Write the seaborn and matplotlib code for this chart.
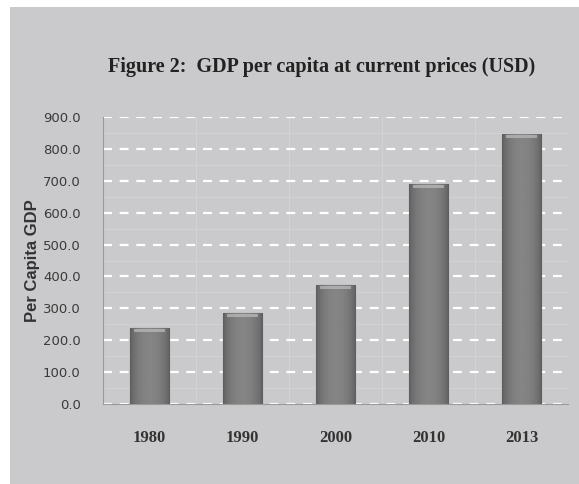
import matplotlib
matplotlib.use("Agg")
import matplotlib.pyplot as plt
import matplotlib.patches as mpatches
import numpy as np
import pandas as pd
import seaborn as sns

# -----------------------------
# Data
# -----------------------------
years = ["1980", "1990", "2000", "2010", "2013"]
gdp_per_capita = [238.0, 285.0, 372.0, 690.0, 847.0]
y_ticks = [0, 100, 200, 300, 400, 500, 600, 700, 800, 900]

df = pd.DataFrame({"year": years, "gdp": gdp_per_capita})

bg = "#cacacc"

sns.set_style("white")
fig = plt.figure(figsize=(5.79, 4.84), dpi=100)
fig.patch.set_facecolor("white")
# grey chart area with a thin white margin at top/left
fig.patches.append(mpatches.Rectangle((10 / 579, 0), 1, 1 - 7 / 484,
                                      transform=fig.transFigure,
                                      facecolor=bg, edgecolor="none", zorder=-5))

ax = fig.add_axes([103 / 579, 1 - 404 / 484, 465 / 579, (404 - 117) / 484])
ax.set_zorder(2)
ax.set_facecolor(bg)

sns.barplot(data=df, x="year", y="gdp", color="#777777", width=0.43,
            edgecolor="#555555", linewidth=0.8, saturation=1, ax=ax, zorder=3)

# horizontal shading on each bar (darker edges, lighter middle)
grad = np.linspace(0, 1, 64)
shade = 0.36 + 0.16 * np.sin(np.pi * grad) ** 0.6
img = np.tile(shade, (8, 1))
for p in list(ax.patches):
    x0, y0 = p.get_x(), p.get_y()
    w, h = p.get_width(), p.get_height()
    im = ax.imshow(img, cmap="gray", vmin=0, vmax=1, aspect="auto",
                   extent=(x0, x0 + w, y0, y0 + h), zorder=4)
    im.set_clip_path(p)
    # light cap at top of bar
    ax.add_patch(mpatches.Rectangle((x0 + w * 0.12, y0 + h - 12), w * 0.76, 9,
                                    facecolor="#bdbdbd", edgecolor="none",
                                    alpha=0.7, zorder=5))

ax.set_xlim(-0.5, 4.5)
ax.set_ylim(0, 900)
ax.set_yticks(y_ticks)
ax.set_yticklabels([f"{v:.1f}" for v in y_ticks], fontsize=9.5,
                   family="DejaVu Sans", color="#3a3a3a")
ax.set_xticks(range(len(years)))
ax.set_xticklabels(years, fontsize=12, family="Liberation Serif",
                   fontweight="bold", color="#333333")
ax.tick_params(axis="x", length=0, pad=19)
ax.tick_params(axis="y", length=3, color="#999999", pad=13)

# faint minor grid, then the white dashed major grid
ax.set_yticks(np.arange(50, 900, 100), minor=True)
ax.set_xticks(np.arange(0.5, 4.5, 1.0), minor=True)
ax.tick_params(which="minor", length=0)
ax.grid(True, which="minor", color="#d3d3d5", linewidth=0.7, zorder=0)
ax.yaxis.grid(True, which="major", color="white", linestyle=(0, (4, 3.5)),
              linewidth=1.6, zorder=1)
ax.set_axisbelow(True)

for side in ["top", "right"]:
    ax.spines[side].set_visible(False)
ax.spines["left"].set_color("#999999")
ax.spines["bottom"].set_color("#999999")

ax.set_xlabel("")
ax.set_ylabel("Per Capita GDP", fontsize=12, fontweight="bold",
              family="Liberation Sans", color="#333333", labelpad=2)

fig.text(322 / 579, 1 - 67 / 484, "Figure 2:  GDP per capita at current prices (USD)",
         ha="center", va="center", fontsize=14.5, fontweight="bold",
         family="Liberation Serif", color="#222222")

fig.savefig("out.png", dpi=100, facecolor=fig.get_facecolor())
